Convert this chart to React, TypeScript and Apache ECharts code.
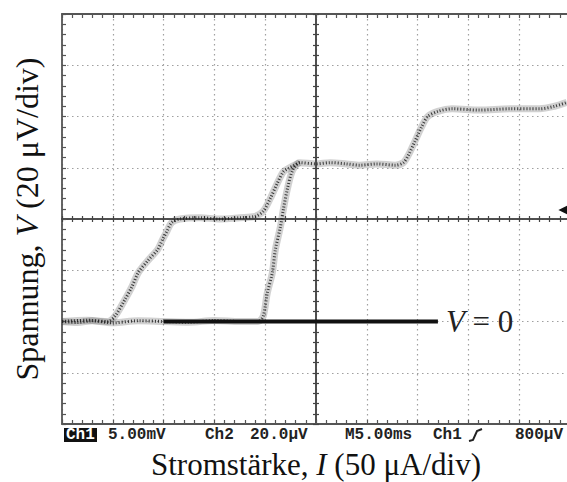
import React, { useEffect, useRef } from "react";
import * as echarts from "echarts";

// Axis ranges: current in μA (50 μA/div), voltage in μV (20 μV/div)
const X_MIN = 0;
const X_MAX = 500;
const X_STEP = 50;
const Y_MIN = -40;
const Y_MAX = 120;
const Y_STEP = 20;

// Forward sweep (increasing current)
const upCurrent = [0, 25, 50, 75, 100, 125, 150, 175, 193, 198, 202, 207, 210, 215, 218, 222, 227, 234, 250, 264, 280, 293, 310, 328, 336, 341, 347, 354, 360, 370, 384, 411, 441, 470, 485, 497];
const upVoltage = [0, 0.5, -0.5, 0.3, 0, -0.3, 0.4, 0, 0, 2, 11, 19, 28, 37, 44, 52, 59, 62, 61.5, 62, 61.5, 61, 61.5, 61, 62, 65, 70, 76, 80, 82, 83, 82.5, 83, 83, 84, 85.5];

// Backward sweep (decreasing current)
const downCurrent = [234, 224, 218, 212, 205, 198, 190, 175, 155, 136, 116, 108, 103, 99, 94, 85, 75, 69, 62, 52, 45, 30, 15, 0];
const downVoltage = [62, 60, 58.5, 54, 48, 43, 41, 40.5, 40, 40.5, 40, 38.6, 35, 32, 28, 24, 19, 13.7, 8.6, 2, 0, 0.3, -0.4, 0];

// V = 0 reference line
const zeroLineCurrent = [100, 370];
const zeroLineVoltage = [0, 0];

// Trigger level marker
const triggerPoint = [494, 43.5];

// Oscilloscope status-line texts
const statusTexts = ["5.00mV", "Ch2", "20.0μV", "M5.00ms", "Ch1", "800μV"];
const statusX = [108, 205, 250, 345, 433, 515];

const zip = (a: number[], b: number[]) => a.map((v, i) => [v, b[i]]);

const GRID = { left: 62, top: 14, width: 508, height: 410, containLabel: false, outerBoundsMode: "none" };
const AXIS_COLOR = "#555";
const dotted = { show: true, lineStyle: { color: "#a0a0a0", width: 1.2, type: [1.5, 3.5] } };
const serif = "'Liberation Serif', 'Times New Roman', serif";
const mono = "'Liberation Mono', 'DejaVu Sans Mono', monospace";

function titleRich(size: number, lineHeight: number) {
  return {
    n: { fontFamily: serif, fontSize: size, color: "#111", lineHeight },
    i: { fontFamily: serif, fontSize: size, color: "#111", fontStyle: "italic", lineHeight },
  };
}

function borderAxis(extra: any) {
  return {
    axisLine: { show: true, onZero: false, lineStyle: { color: AXIS_COLOR, width: 1.8 } },
    axisTick: { show: true, inside: true, length: 4, lineStyle: { color: AXIS_COLOR, width: 1.2 } },
    minorTick: { show: true, splitNumber: 5, length: 4, lineStyle: { color: AXIS_COLOR, width: 1.2 } },
    axisLabel: { show: false },
    ...extra,
  };
}

function crossAxes(gridIndex: number, inside: boolean) {
  const common = (min: number, max: number) => ({
    gridIndex,
    type: "value",
    min,
    max,
    interval: 1,
    axisLine: { show: true, onZero: true, lineStyle: { color: "#444", width: 1.5 } },
    axisTick: { show: true, inside, length: 3, lineStyle: { color: "#444", width: 1.2 } },
    minorTick: { show: true, splitNumber: 5, length: 3, lineStyle: { color: "#444", width: 1.2 } },
    axisLabel: { show: false },
    splitLine: { show: false },
  });
  return { x: common(-5, 5), y: common(-4, 4) };
}

const traceStyles = [
  { width: 7, color: "rgba(70,70,70,0.25)", type: "solid" },
  { width: 3, color: "rgba(30,30,30,0.85)", type: [1, 2] },
];

export default function App() {
  const ref = useRef<HTMLDivElement>(null);
  useEffect(() => {
    const chart = echarts.init(ref.current!, null, { renderer: "svg" });
    const c1 = crossAxes(1, true);
    const c2 = crossAxes(2, false);
    const traces: any[] = [];
    [zip(upCurrent, upVoltage), zip(downCurrent, downVoltage)].forEach((data, k) => {
      traceStyles.forEach((ls, j) => {
        traces.push({
          type: "line",
          name: k === 0 ? "Hinweg" : "Rückweg",
          xAxisIndex: 0,
          yAxisIndex: 0,
          data,
          showSymbol: false,
          smooth: 0.3,
          lineStyle: ls,
          z: 2 + j,
          silent: true,
        });
      });
    });
    const option: any = {
      animation: false,
      backgroundColor: "#fff",
      grid: [{ ...GRID }, { ...GRID }, { ...GRID }],
      xAxis: [
        borderAxis({
          gridIndex: 0,
          type: "value",
          position: "bottom",
          min: X_MIN,
          max: X_MAX,
          interval: X_STEP,
          splitLine: dotted,
          name: "{n|Stromstärke, }{i|I}{n| (50 μA/div)}",
          nameLocation: "middle",
          nameGap: 25,
          nameTextStyle: { lineHeight: 30, rich: titleRich(31, 30) },
        }),
        borderAxis({
          gridIndex: 0,
          type: "value",
          position: "top",
          min: X_MIN,
          max: X_MAX,
          interval: X_STEP,
          splitLine: { show: false },
        }),
        c1.x,
        c2.x,
      ],
      yAxis: [
        borderAxis({
          gridIndex: 0,
          type: "value",
          position: "left",
          min: Y_MIN,
          max: Y_MAX,
          interval: Y_STEP,
          splitLine: dotted,
          name: "{n|Spannung, }{i|V}{n| (20 μV/div)}",
          nameLocation: "middle",
          nameRotate: 90,
          nameGap: 19,
          nameTextStyle: { lineHeight: 32, rich: titleRich(32, 32) },
        }),
        c1.y,
        c2.y,
      ],
      series: [
        ...traces,
        {
          type: "line",
          name: "V = 0",
          xAxisIndex: 0,
          yAxisIndex: 0,
          data: zip(zeroLineCurrent, zeroLineVoltage),
          showSymbol: false,
          lineStyle: { color: "#111", width: 4 },
          z: 5,
          endLabel: {
            show: true,
            distance: 8,
            formatter: "{i|V}{n| = 0}",
            rich: {
              n: { fontFamily: serif, fontSize: 31, color: "#222" },
              i: { fontFamily: serif, fontSize: 31, color: "#222", fontStyle: "italic" },
            },
          },
          markPoint: {
            symbol: "triangle",
            symbolSize: [11, 11],
            symbolRotate: 90,
            itemStyle: { color: "#111" },
            label: { show: false },
            data: [{ coord: triggerPoint }],
          },
        },
      ],
      graphic: [
        { type: "rect", shape: { x: 64, y: 428, width: 33, height: 14 }, style: { fill: "#111" } },
        {
          type: "text",
          x: 66,
          y: 435,
          style: { text: "Ch1", fill: "#fff", fontFamily: mono, fontSize: 16, fontWeight: "bold", verticalAlign: "middle" },
        },
        ...statusTexts.map((t, i) => ({
          type: "text",
          x: statusX[i],
          y: 435,
          style: { text: t, fill: "#222", fontFamily: mono, fontSize: 16, fontWeight: "bold", verticalAlign: "middle" },
        })),
        {
          type: "polyline",
          shape: { points: [[469, 441], [473, 440], [477, 431], [482, 429]] },
          style: { stroke: "#222", lineWidth: 2, fill: "none" },
        },
      ],
    };
    chart.setOption(option);
    return () => chart.dispose();
  }, []);
  return (
    <div
      ref={ref}
      style={{ position: "absolute", left: 0, top: 0, width: 567, height: 482, background: "#fff" }}
    />
  );
}
